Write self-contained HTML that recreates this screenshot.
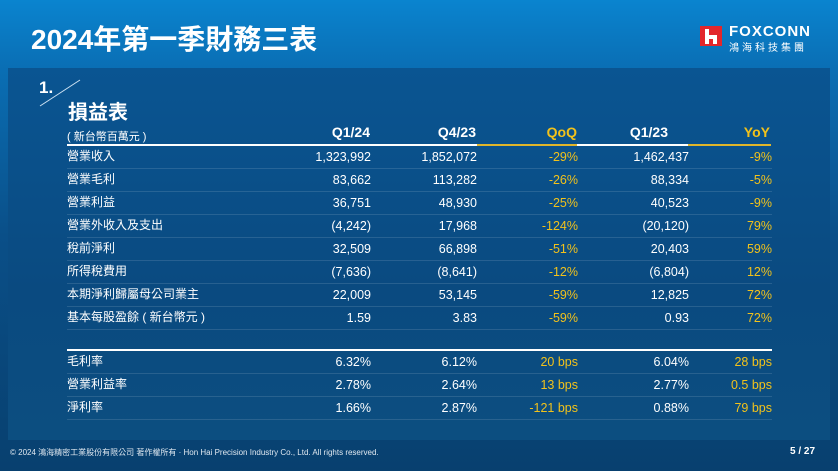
<!DOCTYPE html>
<html><head><meta charset="utf-8"><style>
*{margin:0;padding:0;box-sizing:border-box}
body{width:838px;height:471px;overflow:hidden;font-family:"Liberation Sans","Noto Sans CJK TC",sans-serif;color:#fff;position:relative;
background:linear-gradient(180deg,#0a84cf 0%,#0a6fb5 14%,#0a4f88 50%,#08406f 100%)}
.panel{position:absolute;left:8px;top:68px;width:822px;height:372px;background:linear-gradient(180deg,#0a5592 0%,#0a4a80 60%,#0c4e80 100%)}
.t{position:absolute;white-space:nowrap}
.r{text-align:right}
.row{position:absolute;left:67px;width:705px;height:23px;border-bottom:1px solid rgba(255,255,255,0.12);font-size:12.5px}
.row span{position:absolute;top:4px;white-space:nowrap;line-height:15px}
.row span.lbl{font-size:12px;top:3px}
.g{color:#f2c21b}
</style></head><body>
<div class="panel"></div>
<div class="t" style="left:31px;top:18px;font-size:28px;font-weight:bold">2024年第一季財務三表</div>
<div style="position:absolute;left:700px;top:26px;width:22px;height:20px;background:#e3262b"><div style="position:absolute;left:5px;top:3px;width:4px;height:15px;background:#fff"></div><div style="position:absolute;left:9px;top:9px;width:8px;height:4px;background:#fff"></div><div style="position:absolute;left:13px;top:9px;width:4px;height:9px;background:#fff"></div></div>
<div class="t" style="left:729px;top:23px;font-size:15px;font-weight:bold;letter-spacing:1px">FOXCONN</div>
<div class="t" style="left:729px;top:39px;font-size:10px;letter-spacing:3px">鴻海科技集團</div>
<div class="t" style="left:39px;top:78px;font-size:17px;font-weight:bold">1.</div>
<svg style="position:absolute;left:38px;top:78px" width="45" height="30"><line x1="2" y1="28" x2="42" y2="2" stroke="#cfe3f3" stroke-width="1"/></svg>
<div class="t" style="left:68px;top:96px;font-size:20px;font-weight:bold">損益表</div>
<div class="t" style="left:67px;top:128px;font-size:11px">( 新台幣百萬元 )</div>
<div class="t r" style="left:270px;width:100px;top:124px;font-size:14px;font-weight:bold">Q1/24</div>
<div class="t r" style="left:376px;width:100px;top:124px;font-size:14px;font-weight:bold">Q4/23</div>
<div class="t r g" style="left:477px;width:100px;top:124px;font-size:14px;font-weight:bold">QoQ</div>
<div class="t r" style="left:568px;width:100px;top:124px;font-size:14px;font-weight:bold">Q1/23</div>
<div class="t r g" style="left:670px;width:100px;top:124px;font-size:14px;font-weight:bold">YoY</div>
<div style="position:absolute;left:67px;top:144px;width:704px;height:2px;background:linear-gradient(90deg,#fff 0,#fff 410px,#e0b52a 410px,#e0b52a 510px,#fff 510px,#fff 621px,#e0b52a 621px)"></div>
<div id="t1"></div><div id="t2"></div>
<div style="position:absolute;left:67px;top:349px;width:705px;height:2px;background:#fff"></div>
<div class="t" style="left:10px;top:447px;font-size:8px;color:#dfe8f0">© 2024 鴻海精密工業股份有限公司 著作權所有 · Hon Hai Precision Industry Co., Ltd. All rights reserved.</div>
<div class="t" style="left:790px;top:446px;font-size:10px;font-weight:bold">5 / 27</div>
<script>
const labels=["營業收入","營業毛利","營業利益","營業外收入及支出","稅前淨利","所得稅費用","本期淨利歸屬母公司業主","基本每股盈餘 ( 新台幣元 )"];
const q124=["1,323,992","83,662","36,751","(4,242)","32,509","(7,636)","22,009","1.59"];
const q423=["1,852,072","113,282","48,930","17,968","66,898","(8,641)","53,145","3.83"];
const qoq=["-29%","-26%","-25%","-124%","-51%","-12%","-59%","-59%"];
const q123=["1,462,437","88,334","40,523","(20,120)","20,403","(6,804)","12,825","0.93"];
const yoy=["-9%","-5%","-9%","79%","59%","12%","72%","72%"];
const rLabels=["毛利率","營業利益率","淨利率"];
const r124=["6.32%","2.78%","1.66%"],r423=["6.12%","2.64%","2.87%"],rqoq=["20 bps","13 bps","-121 bps"],r123=["6.04%","2.77%","0.88%"],ryoy=["28 bps","0.5 bps","79 bps"];
function build(host,top,L,a,b,c,d,e){
 L.forEach((l,i)=>{
  const row=document.createElement('div');row.className='row';
  
  
  row.style.top=(top+i*23)+'px';
  const cells=[[l,0,null],[a[i],303,''],[b[i],409,''],[c[i],510,'g'],[d[i],621,''],[e[i],704,'g']];
  cells.forEach((cd,j)=>{const s=document.createElement('span');s.textContent=cd[0];
   
   
   if(j==0){s.style.left='0px';s.className='lbl';}else{s.style.right=(704-cd[1])+'px';}
   if(cd[2]=='g')s.className='g';row.appendChild(s);});
  host.appendChild(row);});
}
build(document.getElementById('t1'),146,labels,q124,q423,qoq,q123,yoy);
build(document.getElementById('t2'),351,rLabels,r124,r423,rqoq,r123,ryoy);
</script>
</body></html>
